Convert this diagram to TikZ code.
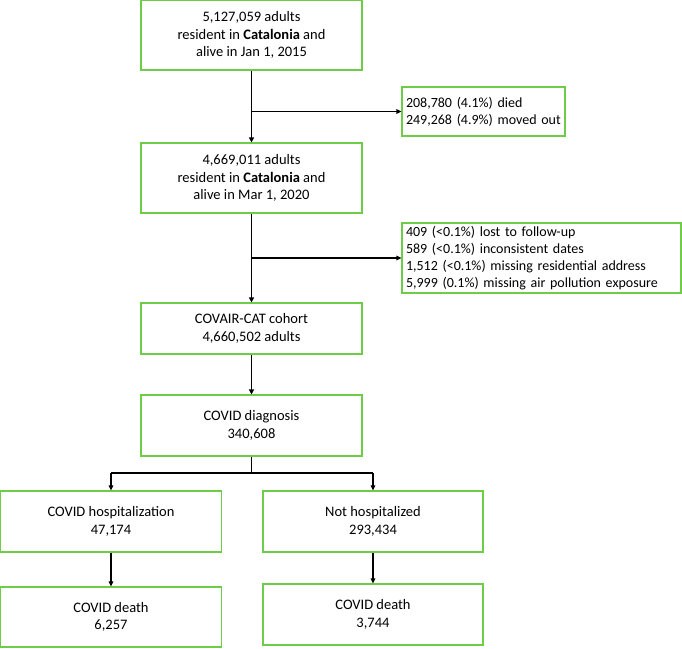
\documentclass[tikz,border=0pt]{standalone}
\usepackage{fontspec}
\setmainfont{Carlito}
\usetikzlibrary{arrows.meta}
\definecolor{boxgreen}{RGB}{110,205,70}
\tikzset{
  box/.style={draw=boxgreen, line width=1.1pt, fill=white, align=center, inner sep=2pt,
    font=\fontsize{14.5}{17.5}\selectfont},
  exbox/.style={draw=boxgreen, line width=1.1pt, fill=white, align=left, inner xsep=4pt, inner ysep=2pt,
    font=\fontsize{14}{17}\selectfont},
  trunk/.style={line width=1.8pt, -{Triangle[length=5pt,width=5pt]}},
  thin arrow/.style={line width=1.1pt, -{Triangle[length=5pt,width=4.5pt]}},
  plain/.style={line width=1.8pt}
}
\begin{document}
\begin{tikzpicture}[x=1pt,y=-1pt]
\useasboundingbox (0,0) rectangle (682,648);
\node[box, minimum width=221pt, minimum height=70pt] (b1) at (251.5,35)
  {5,127,059 adults\\resident in \textbf{Catalonia} and\\alive in Jan 1, 2015};
\node[box, minimum width=221pt, minimum height=70pt] (b2) at (251.5,178)
  {4,669,011 adults\\resident in \textbf{Catalonia} and\\alive in Mar 1, 2020};
\node[box, minimum width=221pt, minimum height=51pt] (b3) at (251.5,328.5)
  {COVAIR-CAT cohort\\4,660,502 adults};
\node[box, minimum width=221pt, minimum height=61pt] (b4) at (251.5,425.5)
  {COVID diagnosis\\340,608};
\node[box, minimum width=221pt, minimum height=61pt] (b5) at (111,521.5)
  {COVID hospitalization\\47,174};
\node[box, minimum width=220pt, minimum height=61pt] (b6) at (373,521.5)
  {Not hospitalized\\293,434};
\node[box, minimum width=221pt, minimum height=60pt] (b7) at (111,617)
  {COVID death\\6,257};
\node[box, minimum width=220pt, minimum height=61pt] (b8) at (373,614.5)
  {COVID death\\3,744};
\node[exbox, text width=155pt, minimum height=49pt] (e1) at (483.5,111.5)
  {\mbox{208,780 (4.1\%) died}\\\mbox{249,268 (4.9\%) moved out}};
\node[exbox, text width=271pt, minimum height=70pt] (e2) at (541.5,258)
  {\mbox{409 (<0.1\%) lost to follow-up}\\\mbox{589 (<0.1\%) inconsistent dates}\\\mbox{1,512 (<0.1\%) missing residential address}\\\mbox{5,999 (0.1\%) missing air pollution exposure}};
\coordinate (j1) at (b1.south |- e1.west);
\coordinate (j2) at (b2.south |- e2.west);
\coordinate (s) at (251.5,473);
\coordinate (sl) at (b5.north |- s);
\coordinate (sr) at (b6.north |- s);
\draw[trunk] (b1.south) -- (b2.north);
\draw[trunk] (b2.south) -- (b3.north);
\draw[trunk] (b3.south) -- (b4.north);
\draw[thin arrow] (j1) -- (e1.west);
\draw[thin arrow] (j2) -- (e2.west);
\draw[plain] (b4.south) -- (s);
\draw[plain] (sl) -- (sr);
\draw[thin arrow] (sl) -- (b5.north);
\draw[thin arrow] (sr) -- (b6.north);
\draw[thin arrow] (b5.south) -- (b7.north);
\draw[thin arrow] (b6.south) -- (b8.north);
\end{tikzpicture}
\end{document}
